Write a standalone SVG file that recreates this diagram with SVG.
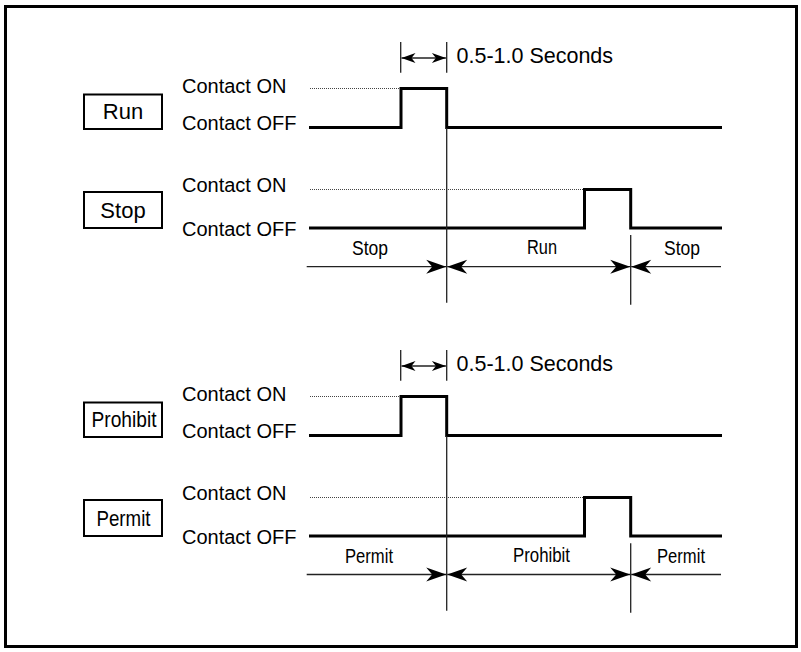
<svg xmlns="http://www.w3.org/2000/svg" width="801" height="652" viewBox="0 0 801 652">
<style>
.t{font-family:"Liberation Sans",Arial,sans-serif;fill:#000}
.c{font-size:20px}
.b{font-size:22px;text-anchor:middle}
.l{font-size:19.5px;text-anchor:middle}
.d{font-size:21.5px}
.box{fill:#fff;stroke:#000;stroke-width:2}
.w{fill:none;stroke:#000;stroke-width:3;stroke-linejoin:miter}
.dot{fill:none;stroke:#444;stroke-width:1;stroke-dasharray:1 1}
.th{fill:none;stroke:#222;stroke-width:1.3}
</style>
<defs>
<marker id="ah" viewBox="-22 -9 24 18" markerWidth="24" markerHeight="18" refX="0" refY="0" orient="auto-start-reverse" markerUnits="userSpaceOnUse"><path d="M0,0 L-20,-7 L-14,0 L-20,7 Z" fill="#000"/></marker>
<marker id="as" viewBox="-16 -7 18 14" markerWidth="18" markerHeight="14" refX="0" refY="0" orient="auto-start-reverse" markerUnits="userSpaceOnUse"><path d="M0,0 L-14,-5 L-10,0 L-14,5 Z" fill="#000"/></marker>
</defs>
<rect x="5.5" y="6.5" width="791" height="640" fill="#fff" stroke="#000" stroke-width="3"/>

<g id="run">
<rect class="box" x="84" y="94.5" width="78" height="34.5"/>
<text class="t b" x="123" y="119">Run</text>
<text class="t c" x="182" y="92.7">Contact ON</text>
<text class="t c" x="182" y="130">Contact OFF</text>
<line class="dot" x1="310" y1="88.5" x2="400" y2="88.5"/>
<polyline class="w" points="309,127.5 401,127.5 401,88.5 446.7,88.5 446.7,127.5 722,127.5"/>
</g>

<g id="stop">
<rect class="box" x="84" y="192" width="78" height="36"/>
<text class="t b" x="123" y="218">Stop</text>
<text class="t c" x="182" y="192">Contact ON</text>
<text class="t c" x="182" y="235.5">Contact OFF</text>
<line class="dot" x1="310" y1="189.5" x2="584" y2="189.5"/>
<polyline class="w" points="309,228 584.5,228 584.5,189.5 630.7,189.5 630.7,228 722,228"/>
<text class="t l" x="370" y="255" textLength="36" lengthAdjust="spacingAndGlyphs">Stop</text>
<text class="t l" x="542" y="254" textLength="30" lengthAdjust="spacingAndGlyphs">Run</text>
<text class="t l" x="682" y="255" textLength="36" lengthAdjust="spacingAndGlyphs">Stop</text>
</g>

<g id="prohibit">
<rect class="box" x="84" y="402.5" width="78" height="34.5"/>
<text class="t b" x="124" y="427" textLength="65" lengthAdjust="spacingAndGlyphs">Prohibit</text>
<text class="t c" x="182" y="400.7">Contact ON</text>
<text class="t c" x="182" y="438">Contact OFF</text>
<line class="dot" x1="310" y1="396.5" x2="400" y2="396.5"/>
<polyline class="w" points="309,435.5 401,435.5 401,396.5 446.7,396.5 446.7,435.5 722,435.5"/>
</g>

<g id="permit">
<rect class="box" x="84" y="500" width="78" height="36"/>
<text class="t b" x="123.5" y="526" textLength="54" lengthAdjust="spacingAndGlyphs">Permit</text>
<text class="t c" x="182" y="500">Contact ON</text>
<text class="t c" x="182" y="543.5">Contact OFF</text>
<line class="dot" x1="310" y1="497.5" x2="584" y2="497.5"/>
<polyline class="w" points="309,536 584.5,536 584.5,497.5 630.7,497.5 630.7,536 722,536"/>
<text class="t l" x="369" y="563" textLength="48" lengthAdjust="spacingAndGlyphs">Permit</text>
<text class="t l" x="541.5" y="562" textLength="57" lengthAdjust="spacingAndGlyphs">Prohibit</text>
<text class="t l" x="681" y="563" textLength="48" lengthAdjust="spacingAndGlyphs">Permit</text>
</g>

<g id="timing1">
<text class="t d" x="456.5" y="63.3">0.5-1.0 Seconds</text>
</g>
<g id="timing2">
<text class="t d" x="456.5" y="371.3">0.5-1.0 Seconds</text>
</g>

<g id="connectors">
<line class="th" x1="400.7" y1="42" x2="400.7" y2="72.7"/>
<line class="th" x1="446.7" y1="42" x2="446.7" y2="72.7"/>
<line class="th" x1="401.5" y1="58" x2="445.9" y2="58" marker-start="url(#as)" marker-end="url(#as)"/>
<line class="th" x1="400.7" y1="350" x2="400.7" y2="380.7"/>
<line class="th" x1="446.7" y1="350" x2="446.7" y2="380.7"/>
<line class="th" x1="401.5" y1="366" x2="445.9" y2="366" marker-start="url(#as)" marker-end="url(#as)"/>

<line class="th" x1="446.7" y1="128" x2="446.7" y2="302.7"/>
<line class="th" x1="630.7" y1="235" x2="630.7" y2="304.7"/>
<line class="th" x1="306.7" y1="266.7" x2="446.2" y2="266.7" marker-end="url(#ah)"/>
<line class="th" x1="447.2" y1="266.7" x2="630.2" y2="266.7" marker-start="url(#ah)" marker-end="url(#ah)"/>
<line class="th" x1="721" y1="266.7" x2="631.2" y2="266.7" marker-end="url(#ah)"/>

<line class="th" x1="446.7" y1="436" x2="446.7" y2="610.7"/>
<line class="th" x1="630.7" y1="543.3" x2="630.7" y2="612.7"/>
<line class="th" x1="306.7" y1="574.5" x2="446.2" y2="574.5" marker-end="url(#ah)"/>
<line class="th" x1="447.2" y1="574.5" x2="630.2" y2="574.5" marker-start="url(#ah)" marker-end="url(#ah)"/>
<line class="th" x1="721" y1="574.5" x2="631.2" y2="574.5" marker-end="url(#ah)"/>
</g>
</svg>
